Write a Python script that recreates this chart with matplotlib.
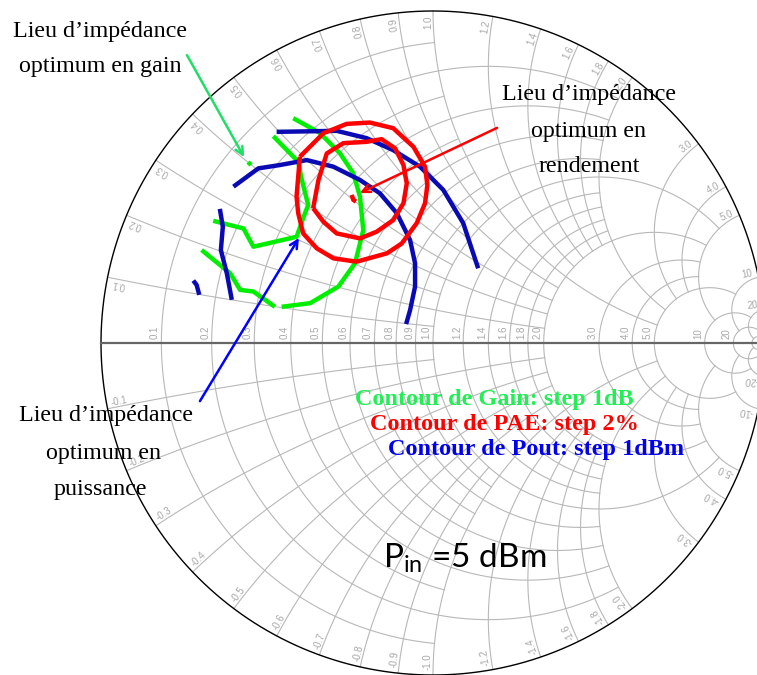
import numpy as np
import matplotlib
matplotlib.use("Agg")
import matplotlib.pyplot as plt

# %%
# contours read off the chart, as reflection coefficient (real / imag)
gain_1_re = [-0.421, -0.340, -0.280, -0.240, -0.220, -0.210, -0.235, -0.285, -0.370, -0.456]
gain_1_im = [0.677, 0.632, 0.571, 0.511, 0.441, 0.340, 0.240, 0.170, 0.120, 0.109]
gain_2_re = [-0.481, -0.406, -0.395, -0.376, -0.391, -0.411, -0.541, -0.571, -0.662]
gain_2_im = [0.623, 0.546, 0.491, 0.416, 0.376, 0.320, 0.290, 0.345, 0.368]
gain_3_re = [-0.697, -0.611, -0.581, -0.541, -0.476]
gain_3_im = [0.280, 0.210, 0.160, 0.155, 0.109]
gain_opt_re = [-0.557, -0.548]
gain_opt_im = [0.545, 0.536]

pae_1_re = [-0.401, -0.330, -0.260, -0.190, -0.120, -0.059, -0.024, -0.017, -0.024, -0.049,
            -0.094, -0.139, -0.230, -0.300, -0.350, -0.391, -0.406, -0.411, -0.406, -0.401]
pae_1_im = [0.561, 0.632, 0.660, 0.664, 0.647, 0.591, 0.531, 0.476, 0.421, 0.361,
            0.300, 0.270, 0.245, 0.255, 0.285, 0.330, 0.391, 0.441, 0.501, 0.561]
pae_2_re = [-0.361, -0.345, -0.320, -0.270, -0.200, -0.155, -0.114, -0.089, -0.079, -0.089,
            -0.120, -0.170, -0.220, -0.290, -0.330, -0.361]
pae_2_im = [0.406, 0.491, 0.571, 0.602, 0.606, 0.614, 0.586, 0.536, 0.481, 0.421,
            0.370, 0.335, 0.315, 0.330, 0.365, 0.406]
pae_opt_re = [-0.245, -0.240, -0.232]
pae_opt_im = [0.446, 0.431, 0.426]

pout_1_re = [-0.471, -0.290, -0.200, -0.120, -0.039, 0.031, 0.091, 0.136]
pout_1_im = [0.636, 0.639, 0.617, 0.581, 0.531, 0.461, 0.361, 0.225]
pout_2_re = [-0.601, -0.526, -0.461, -0.380, -0.300, -0.220, -0.160, -0.109, -0.069, -0.054,
             -0.054, -0.069, -0.081]
pout_2_im = [0.471, 0.526, 0.536, 0.551, 0.531, 0.491, 0.451, 0.391, 0.310, 0.240,
             0.170, 0.099, 0.057]
pout_3_re = [-0.642, -0.633, -0.639, -0.621, -0.606]
pout_3_im = [0.404, 0.350, 0.280, 0.210, 0.130]
pout_4_re = [-0.722, -0.712, -0.704]
pout_4_im = [0.188, 0.175, 0.145]

# arrows: (start, tip) in reflection coefficient
arrow_gain = [(-0.741, 0.867), (-0.569, 0.560)]
arrow_pae = [(0.193, 0.648), (-0.220, 0.452)]
arrow_pout = [(-0.702, -0.175), (-0.404, 0.316)]

# smith chart grid values
grid_labels = [0.1, 0.2, 0.3, 0.4, 0.5, 0.6, 0.7, 0.8, 0.9, 1.0,
               1.2, 1.4, 1.6, 1.8, 2.0, 3.0, 4.0, 5.0, 10, 20]
# how far each circle / arc is drawn
grid_extent = {0.1: 1, 0.3: 1, 0.5: 1, 0.7: 1, 0.9: 1,
               0.2: 2, 0.4: 2, 0.6: 2, 0.8: 2, 1.0: 5,
               1.2: 2, 1.4: 2, 1.6: 2, 1.8: 2, 2.0: 5,
               3.0: 5, 4.0: 5, 5.0: 10, 10: 20, 20: 50, 50: 1e4}

# %%
W, H = 757, 675
cx, cy, R = 433, 343, 332
fig = plt.figure(figsize=(W / 100, H / 100), dpi=100)
ax = fig.add_axes([0, 0, 1, 1])
ax.set_xlim(-cx / R, (W - cx) / R)
ax.set_ylim((cy - H) / R, cy / R)
ax.set_aspect("equal")
ax.axis("off")

grid_c = "#b8b8b8"


def gam(z):
    return (z - 1) / (z + 1)


# resistance circles
for r, xm in grid_extent.items():
    x = np.tan(np.linspace(-np.arctan(xm), np.arctan(xm), 400))
    g = gam(r + 1j * x)
    ax.plot(g.real, g.imag, color=grid_c, lw=0.8, zorder=1)

# reactance arcs
for xv, rm in grid_extent.items():
    r = np.tan(np.linspace(0, np.arctan(rm), 400))
    for s in (1, -1):
        g = gam(r + 1j * s * xv)
        ax.plot(g.real, g.imag, color=grid_c, lw=0.8, zorder=1)

# outer circle + real axis
t = np.linspace(0, 2 * np.pi, 800)
ax.plot(np.cos(t), np.sin(t), color="black", lw=1.0, zorder=2)
ax.plot([-1, 1], [0, 0], color="#666666", lw=1.6, zorder=2)

# grid labels
lab_kw = dict(color="#a8a8a8", fontsize=7, family="Liberation Sans", rotation_mode="anchor", zorder=2)
for v in grid_labels:
    s = "%d" % v if v >= 10 else "%.1f" % v
    gr = gam(v)
    ax.text(gr - 0.004, 0.012, s, rotation=90, ha="left", va="bottom", **lab_kw)
    th = np.pi - 2 * np.arctan(v)
    ax.text(0.985 * np.cos(th), 0.985 * np.sin(th), s, rotation=np.degrees(th),
            ha="right", va="bottom", **lab_kw)
    th2 = -th
    ax.text(0.985 * np.cos(th2), 0.985 * np.sin(th2), "-" + s, rotation=np.degrees(th2) + 180,
            ha="left", va="bottom", **lab_kw)

# %%
# contours
c_gain, c_pae, c_pout = "#00ee00", "#ff0000", "#0a0ab4"
for xs, ys in [(gain_1_re, gain_1_im), (gain_2_re, gain_2_im), (gain_3_re, gain_3_im),
               (gain_opt_re, gain_opt_im)]:
    ax.plot(xs, ys, color=c_gain, lw=3.2, solid_capstyle="butt", zorder=3)
for xs, ys in [(pout_1_re, pout_1_im), (pout_2_re, pout_2_im), (pout_3_re, pout_3_im),
               (pout_4_re, pout_4_im)]:
    ax.plot(xs, ys, color=c_pout, lw=3.2, solid_capstyle="butt", zorder=4)
for xs, ys in [(pae_1_re, pae_1_im), (pae_2_re, pae_2_im), (pae_opt_re, pae_opt_im)]:
    ax.plot(xs, ys, color=c_pae, lw=3.2, solid_capstyle="butt", zorder=5)

# arrows
for (p0, p1), col in [(arrow_gain, "#22dd66"), (arrow_pae, "#ff0000"), (arrow_pout, "#0000ff")]:
    ax.annotate("", xy=p1, xytext=p0,
                arrowprops=dict(arrowstyle="->", color=col, lw=1.8, mutation_scale=14,
                                shrinkA=0, shrinkB=0), zorder=6)


# %%
# texts (pixel positions)
def fx(px):
    return px / W


def fy(py):
    return 1 - py / H


serif = "Liberation Serif"
txt = dict(family=serif, fontsize=17.3, ha="center", va="baseline")
fig.text(fx(100), fy(37), "Lieu d’impédance", **txt)
fig.text(fx(100), fy(72), "optimum en gain", **txt)
fig.text(fx(589), fy(100), "Lieu d’impédance", **txt)
fig.text(fx(589), fy(137), "optimum en", **txt)
fig.text(fx(589), fy(172), "rendement", **txt)
fig.text(fx(106), fy(421), "Lieu d’impédance", **txt)
fig.text(fx(104), fy(459), "optimum en", **txt)
fig.text(fx(100), fy(495), "puissance", **txt)

leg = dict(family=serif, fontsize=17.5, fontweight="bold", ha="left", va="baseline")
fig.text(fx(355), fy(405), "Contour de Gain: step 1dB", color="#22ee55", **leg)
fig.text(fx(370), fy(430), "Contour de PAE: step 2%", color="#ff0000", **leg)
fig.text(fx(388), fy(455), "Contour de Pout: step 1dBm", color="#0000ee", **leg)

fig.text(fx(383), fy(567), r"P$_{\mathregular{in}}$ =5 dBm", family="Lato", fontsize=24,
         ha="left", va="baseline")

plt.savefig("out.png", dpi=100)
